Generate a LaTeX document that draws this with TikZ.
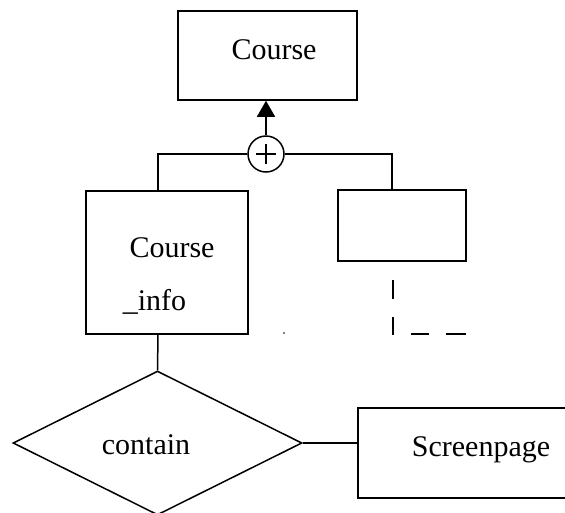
\documentclass[tikz,border=0pt]{standalone}
\usepackage{fontspec}
\setmainfont{Liberation Serif}
\usetikzlibrary{shapes.geometric,arrows.meta}
\begin{document}
\begin{tikzpicture}[x=1pt,y=-1pt,
  line width=1.5pt,
  every node/.style={font=\fontsize{30}{34}\selectfont},
  entity/.style={draw,rectangle,inner sep=0pt},
  label text/.style={inner sep=0pt,anchor=base},
  dashline/.style={line width=1.5pt}]
  \useasboundingbox (0,0) rectangle (565,512);
  \clip (0,0) rectangle (565,512);

  % supertype
  \node[entity,minimum width=179pt,minimum height=89pt] (course) at (267.5,55.5) {};
  \node[label text] (courseT) at (274,59) {Course};

  % disjoint/union symbol
  \node[draw,circle,minimum size=36pt,inner sep=0pt] (plus) at (266,154) {};
  \draw[line width=1.3pt] ([yshift=-10pt]plus.center) -- ([yshift=10pt]plus.center)
        ([xshift=-10pt]plus.center) -- ([xshift=10pt]plus.center);

  % subtypes
  \node[entity,minimum width=162pt,minimum height=143pt] (info) at (167,262.5) {};
  \node[label text] (infoA) at (172,257) {Course};
  \node[label text,anchor=base west] (infoB) at (122,310) {\_info};

  \node[entity,minimum width=128pt,minimum height=71pt] (other) at (402,225.5) {};

  % relationship
  \node[draw,minimum width=289pt,minimum height=144pt,diamond,inner sep=0pt] (contain) at (157.5,443) {};
  \node[label text] (containT) at (146,454) {contain};

  \node[entity,minimum width=240pt,minimum height=90pt,anchor=north west] (screen) at (357,407) {};
  \node[label text] (screenT) at (481,456) {Screenpage};

  % generalisation connectors
  \coordinate (lj) at (158,154);
  \coordinate (rj) at (392,154);
  \draw[-{Triangle[length=16pt,width=18pt]}] (plus.north) -- (plus.north |- course.south);
  \draw (plus.west) -- (lj) -- (lj |- info.north);
  \draw (plus.east) -- (rj) -- (rj |- other.north);

  % relationship connectors
  \draw (info.south -| lj) -- (contain.north);
  \draw (contain.east) -- (contain.east -| screen.west);

  % dashed fragment
  \coordinate (d1) at (393,280);
  \coordinate (d2) at (393,299);
  \coordinate (d3) at (393,317);
  \coordinate (d4) at (393,335);
  \coordinate (d5) at (411,334);
  \coordinate (d6) at (429,334);
  \coordinate (d7) at (446,334);
  \coordinate (d8) at (466,334);
  \draw[dashline] (d1) -- (d2) (d3) -- (d4) (d5) -- (d6) (d7) -- (d8);
  \fill (284,333) circle (0.8pt);
\end{tikzpicture}
\end{document}
